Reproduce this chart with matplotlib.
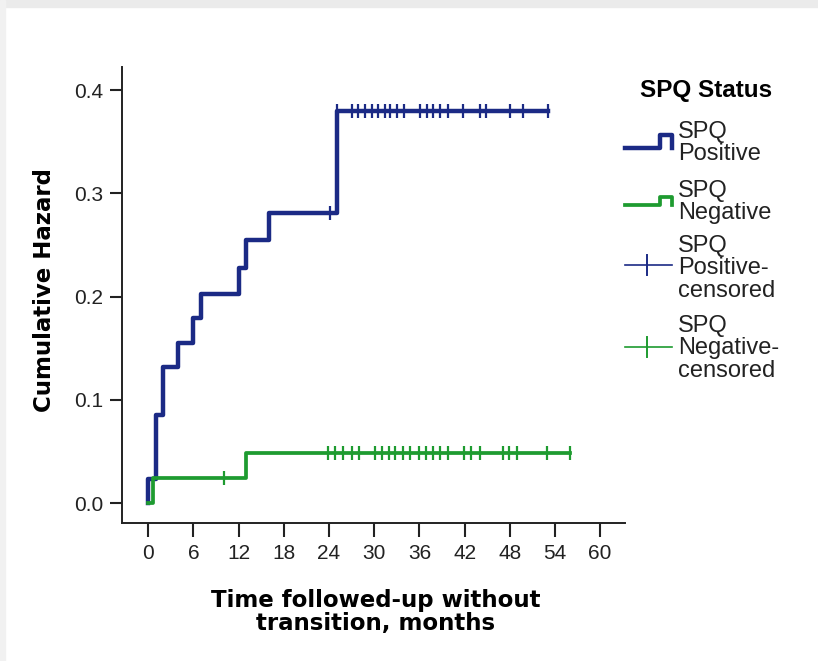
import matplotlib
matplotlib.use("Agg")
import matplotlib.pyplot as plt
import numpy as np
from matplotlib.lines import Line2D
from matplotlib.patches import Rectangle

# cumulative hazard steps
pos_times = [0.0, 1.0, 2.0, 4.0, 6.0, 7.0, 12.0, 13.0, 16.0, 25.0]
pos_haz = [0.0235, 0.0855, 0.132, 0.155, 0.179, 0.203, 0.2275, 0.255, 0.281, 0.380]
pos_end = 53.1
pos_censored = [24.1, 25.0, 27.0, 27.9, 28.8, 29.7, 30.5, 31.4, 32.1, 33.0, 33.9,
                36.1, 37.0, 37.8, 38.7, 39.8, 41.8, 44.0, 44.9, 48.0, 49.8, 53.1]

neg_times = [0.6, 13.0]
neg_haz = [0.024, 0.0484]
neg_end = 56.0
neg_censored = [10.0, 23.8, 24.8, 25.9, 27.0, 28.0, 30.1, 31.0, 31.9, 32.8, 33.8,
                34.8, 35.9, 36.9, 37.8, 38.8, 39.8, 41.9, 42.9, 44.0, 47.1, 47.9,
                48.9, 52.9, 56.0]

x_ticks = [0, 6, 12, 18, 24, 30, 36, 42, 48, 54, 60]
y_ticks = [0.0, 0.1, 0.2, 0.3, 0.4]

blue = "#1b2a85"
green = "#1e9b30"
W, H = 818, 661


def step_xy(times, haz, end):
    x = np.r_[0.0, times, end]
    y = np.r_[0.0, haz, haz[-1]]
    return x, y


def level_at(times, haz, t):
    idx = np.searchsorted(times, t, side="right") - 1
    return np.where(idx >= 0, np.asarray(haz)[np.clip(idx, 0, None)], 0.0)


fig = plt.figure(figsize=(W / 100, H / 100), dpi=100)
fig.patch.set_facecolor("white")
fig.patches.append(Rectangle((0, 1 - 7 / H), 1, 7 / H, transform=fig.transFigure,
                             color="#ebebeb", zorder=0))
fig.patches.append(Rectangle((0, 0), 5 / W, 1, transform=fig.transFigure,
                             color="#f1f1f1", zorder=0))

ax = fig.add_axes([121.7 / W, 1 - 523.3 / H, (625 - 121.7) / W, (523.3 - 66.7) / H])

x, y = step_xy(pos_times, pos_haz, pos_end)
ax.step(x, y, where="post", color=blue, lw=3.2, zorder=3)
x, y = step_xy(neg_times, neg_haz, neg_end)
ax.step(x, y, where="post", color=green, lw=2.7, zorder=4)

ax.plot(pos_censored, level_at(pos_times, pos_haz, pos_censored), ls="none",
        marker="|", ms=10, mew=1.6, color=blue, zorder=5)
ax.plot(neg_censored, level_at(neg_times, neg_haz, neg_censored), ls="none",
        marker="|", ms=10, mew=1.6, color=green, zorder=5)

ax.set_xlim(-3.53, 63.3)
ax.set_ylim(-0.0194, 0.4227)
ax.set_xticks(x_ticks)
ax.set_yticks(y_ticks)
ax.set_yticklabels([f"{v:.1f}" for v in y_ticks])
for s in ["top", "right"]:
    ax.spines[s].set_visible(False)
for s in ["left", "bottom"]:
    ax.spines[s].set_linewidth(1.4)
    ax.spines[s].set_color("#222222")
ax.tick_params(axis="x", length=10, width=1.5, pad=5, color="#222222",
               labelsize=15, labelcolor="#222222")
ax.tick_params(axis="y", length=8.5, width=1.5, pad=5, color="#222222",
               labelsize=15, labelcolor="#222222")
for lab in ax.get_xticklabels() + ax.get_yticklabels():
    lab.set_family("Liberation Sans")

fig.text(376 / W, 1 - 612 / H, "Time followed-up without\ntransition, months",
         ha="center", va="center", fontsize=16.5, fontweight="bold",
         family="DejaVu Sans", linespacing=1.05)
fig.text(45 / W, 1 - 290 / H, "Cumulative Hazard", rotation=90, ha="center",
         va="center", fontsize=16.5, fontweight="bold", family="DejaVu Sans")

# legend drawn by hand
fig.text(706 / W, 1 - 90 / H, "SPQ Status", ha="center", va="center",
         fontsize=17.5, fontweight="bold", family="Liberation Sans")


def px(xp, yp):
    return [v / W for v in xp], [1 - v / H for v in yp]


lx, ly = px([625, 660, 660, 672, 672], [148, 148, 135, 135, 148])
fig.add_artist(Line2D(lx, ly, color=blue, lw=3.2))
lx, ly = px([625, 660, 660, 672, 672], [205, 205, 197, 197, 205])
fig.add_artist(Line2D(lx, ly, color=green, lw=2.7))
for yc, col in [(265, blue), (347, green)]:
    lx, ly = px([625, 672], [yc, yc])
    fig.add_artist(Line2D(lx, ly, color=col, lw=1.2))
    lx, ly = px([647, 647], [yc - 10, yc + 10])
    fig.add_artist(Line2D(lx, ly, color=col, lw=1.4))

legend_lines = [("SPQ", 132), ("Positive", 154), ("SPQ", 191), ("Negative", 213),
                ("SPQ", 246), ("Positive-", 268), ("censored", 291),
                ("SPQ", 326), ("Negative-", 348), ("censored", 371)]
for txt, yc in legend_lines:
    fig.text(678 / W, 1 - yc / H, txt, ha="left", va="center", fontsize=17,
             family="Liberation Sans", color="#222222")

fig.savefig("out.png", dpi=100, facecolor="white")
